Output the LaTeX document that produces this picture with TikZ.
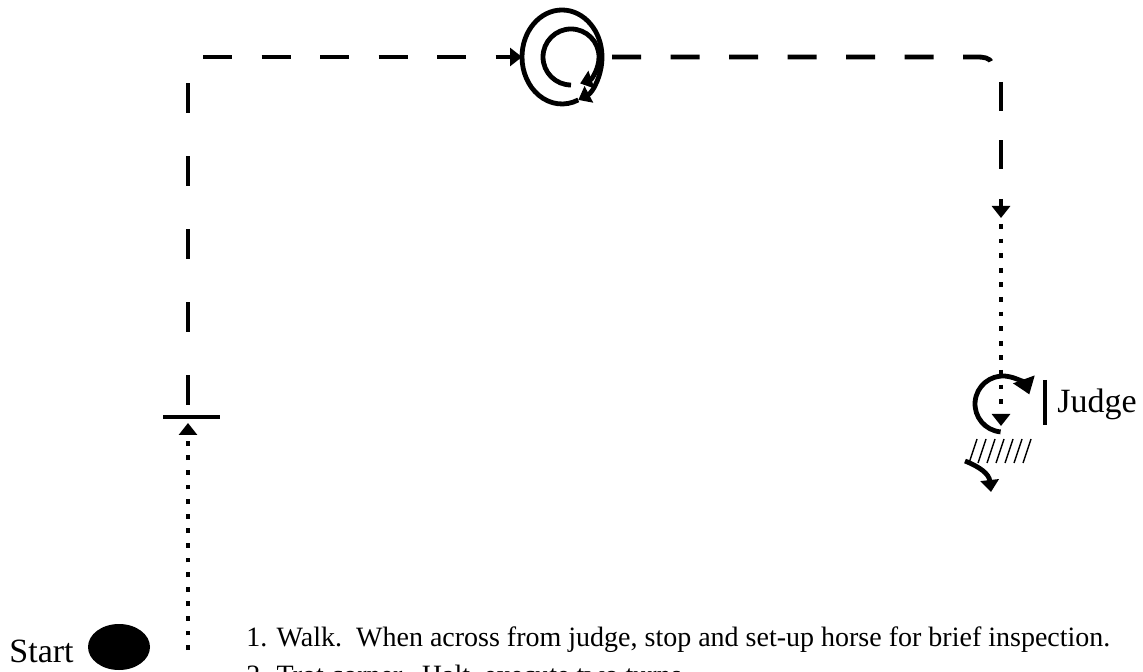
\documentclass[tikz,border=0pt]{standalone}
\usepackage{fontspec}
\setmainfont{Liberation Serif}
\usetikzlibrary{arrows.meta,shapes.geometric}

\begin{document}
\begin{tikzpicture}[x=0.5pt,y=-0.5pt,line join=round,
  walkline/.style={line width=2.4pt,dash pattern=on 15pt off 21.5pt},
  trotline/.style={line width=2.4pt,dash pattern=on 14.5pt off 14.75pt},
  dotline/.style={line width=2.2pt,dash pattern=on 2.4pt off 4.9pt},
  turnline/.style={line width=2.4pt},
  tipA/.style={-{Triangle[length=6pt,width=9pt]}},
  tipB/.style={-{Triangle[length=8pt,width=11pt]}},
  label/.style={inner sep=0pt,anchor=base west}]
\path[use as bounding box] (0,0) rectangle (1143,672);
% points of the course
\coordinate (walkA) at (188,405);
\coordinate (walkB) at (188,83);
\coordinate (crossL) at (163,417);
\coordinate (crossR) at (220,417);
\coordinate (dotL) at (188,650);
\coordinate (dotLtop) at (188,423);
\coordinate (topA) at (203,57);
\coordinate (spin) at (562,57);
\coordinate (spinIn) at (571,57);
\coordinate (spinW) at (522,57);
\coordinate (spinE) at (603,57);
\coordinate (topB) at (976,57);
\coordinate (corner) at (992,64);
\coordinate (downA) at (1001,82);
\coordinate (downB) at (1001,218);
\coordinate (dotR) at (1001,224);
\coordinate (dotRend) at (1001,426);
\coordinate (judgeturn) at (1003,404);
\coordinate (barT) at (1045,380);
\coordinate (barB) at (1045,425);
\coordinate (curlA) at (965,461);
\coordinate (curlB) at (991,492);
% start and texts
\node[ellipse,fill,minimum width=31pt,minimum height=23pt,inner sep=0pt] (startdot) at (119,647) {};
\node[label,font=\fontsize{17}{20}\selectfont] (start) at (9,662) {Start};
\node[label,font=\fontsize{17}{20}\selectfont] (judge) at (1057,413) {Judge};
\node[label,font=\fontsize{14}{17}\selectfont] (step1) at (246,646) {1. Walk.\ \ When across from judge, stop and set-up horse for brief inspection.};
\node[label,font=\fontsize{14}{17}\selectfont] (step2) at (246,684) {2. Trot corner.\ \ Halt, execute two turns.};
% walk up the left side
\draw[dotline,tipA] (dotL) -- (dotLtop);
\draw[turnline] (crossL) -- (crossR);
\draw[walkline] (walkA) -- (walkB);
% trot along the top and down the right side
\draw[trotline,tipA] (topA) -- (spinW);
\draw[turnline,tipA] (spin) ++(180:40 and 47) arc[start angle=180,end angle=426,x radius=40,y radius=47];
\draw[turnline] (spin) ++(66:40 and 47) arc[start angle=66,end angle=180,x radius=40,y radius=47];
\draw[turnline,tipA] (spinIn) ++(90:28) arc[start angle=90,end angle=431,radius=28];
\draw[trotline,dash phase=24.75pt] (spinE) -- (topB) to[out=0,in=100] (corner);
\draw[trotline,tipA] (downA) -- (downB);
\draw[dotline,tipA] (dotR) -- (dotRend);
% halt and turns in front of the judge
\draw[turnline,tipB] (judgeturn) ++(95:28) arc[start angle=95,end angle=340,radius=28];
\draw[line width=2pt] (barT) -- (barB);
\foreach \k in {0,...,6}
  \draw[line width=0.7pt] (969+9*\k,463) -- (977+9*\k,439);
\draw[turnline,tipA] (curlA) .. controls (980,467) and (989,474) .. (curlB);
\end{tikzpicture}
\end{document}
